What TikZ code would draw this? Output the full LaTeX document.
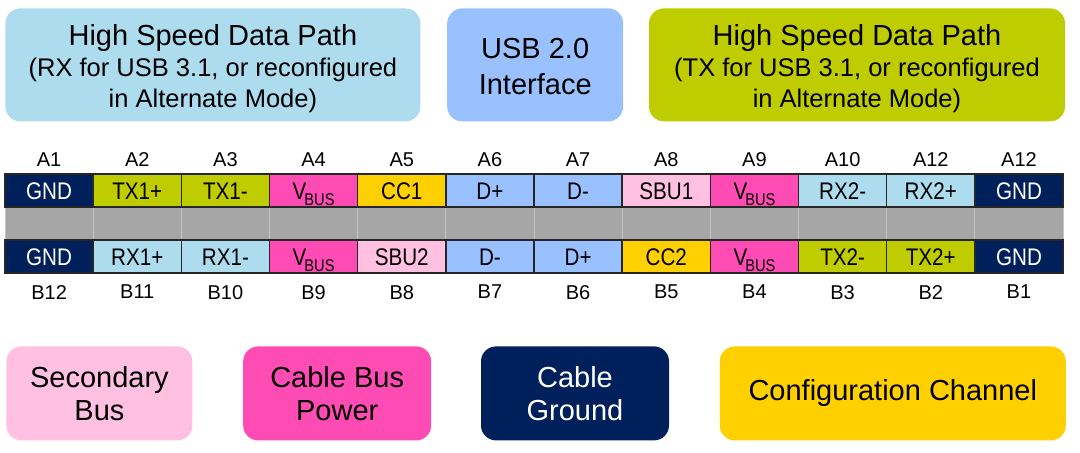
\documentclass[tikz,border=0pt]{standalone}
\usepackage{fontspec}
\setmainfont{Liberation Sans}
\newfontfamily\pinfont{Liberation Sans}[FakeStretch=0.86]
\usepackage{tikz}
\usetikzlibrary{positioning}
\definecolor{rxblue}{HTML}{ADDCEF}
\definecolor{usbblue}{HTML}{99C0FF}
\definecolor{txgreen}{HTML}{BFCC00}
\definecolor{sbupink}{HTML}{FFC0E2}
\definecolor{vbuspink}{HTML}{FF4CB4}
\definecolor{gndnavy}{HTML}{00205B}
\definecolor{ccgold}{HTML}{FFD000}
\definecolor{bandgray}{HTML}{A6A6A6}
\definecolor{bandline}{HTML}{C4C4C4}
\definecolor{pinline}{HTML}{262626}
\newcommand{\vbus}{V\kern-1pt\raisebox{-3pt}{\fontsize{8.5}{8.5}\selectfont BUS}}
\newcommand{\grouphead}{\rule{0pt}{14.5pt}\fontsize{14.5}{17}\selectfont High Speed Data Path}

\begin{document}
\begin{tikzpicture}[
    x=0.5pt, y=-0.5pt,
    group/.style={rectangle, rounded corners=7.5pt, minimum height=56.5pt, align=center, inner sep=0pt, font=\fontsize{12.75}{15.5}\selectfont},
    legend/.style={rectangle, rounded corners=7.5pt, minimum height=47pt, align=center, inner sep=0pt, font=\fontsize{14.5}{16.5}\selectfont},
    pin/.style={rectangle, draw=pinline, line width=0.7pt, minimum width=44.08pt, minimum height=16.5pt, inner sep=0pt, text height=8.6pt, text depth=0pt, font=\pinfont\fontsize{12}{12}\selectfont},
    band/.style={rectangle, draw=bandline, fill=bandgray, line width=0.5pt, minimum width=44.08pt, minimum height=16.5pt, inner sep=0pt},
    pinlbl/.style={inner sep=0pt, font=\fontsize{10}{10}\selectfont},
]
\useasboundingbox (0,0) rectangle (1080,453);

% signal groups
\node[group, fill=rxblue, minimum width=207.5pt, anchor=north west] (rxpath) at (5,8) {{\grouphead}\\(RX for USB 3.1, or reconfigured\\in Alternate Mode)};
\node[group, fill=usbblue, minimum width=88pt, right=13pt of rxpath, font=\fontsize{14.5}{18}\selectfont] (usbif) {\rule{0pt}{12pt}USB 2.0\\Interface};
\node[group, fill=txgreen, minimum width=208pt, right=12.5pt of usbif] (txpath) {{\grouphead}\\(TX for USB 3.1, or reconfigured\\in Alternate Mode)};

% receptacle pins
\foreach \i in {1,...,12}
  \node[band] (mid\i) at ({5+88.17*(\i-0.5)}, 223.5) {};

\foreach \lbl/\txt/\fc/\tc [count=\i] in {A1/GND/gndnavy/white, A2/TX1+/txgreen/black, A3/TX1-/txgreen/black, A4/\vbus/vbuspink/black, A5/CC1/ccgold/black, A6/D+/usbblue/black, A7/D-/usbblue/black, A8/SBU1/sbupink/black, A9/\vbus/vbuspink/black, A10/RX2-/rxblue/black, A12/RX2+/rxblue/black, A12/GND/gndnavy/white}
{
  \node[pin, fill=\fc, text=\tc] (top\i) at ({5+88.17*(\i-0.5)}, 190.5) {\txt};
  \node[pinlbl, above=3pt of top\i] (lbltop\i) {\lbl};
}

\foreach \lbl/\txt/\fc/\tc [count=\i] in {B12/GND/gndnavy/white, B11/RX1+/rxblue/black, B10/RX1-/rxblue/black, B9/\vbus/vbuspink/black, B8/SBU2/sbupink/black, B7/D-/usbblue/black, B6/D+/usbblue/black, B5/CC2/ccgold/black, B4/\vbus/vbuspink/black, B3/TX2-/txgreen/black, B2/TX2+/txgreen/black, B1/GND/gndnavy/white}
{
  \node[pin, fill=\fc, text=\tc] (bot\i) at ({5+88.17*(\i-0.5)}, 256.5) {\txt};
  \node[pinlbl, below=5.5pt of bot\i] (lblbot\i) {\lbl};
}

% legend
\node[legend, fill=sbupink, minimum width=93pt, anchor=north west] (sbukey) at (6,346) {Secondary\\Bus};
\node[legend, fill=vbuspink, minimum width=94pt, right=25pt of sbukey] (vbuskey) {Cable Bus\\Power};
\node[legend, fill=gndnavy, text=white, minimum width=94pt, right=24.5pt of vbuskey] (gndkey) {Cable\\Ground};
\node[legend, fill=ccgold, minimum width=173pt, right=25pt of gndkey] (cckey) {Configuration Channel};

\end{tikzpicture}
\end{document}
